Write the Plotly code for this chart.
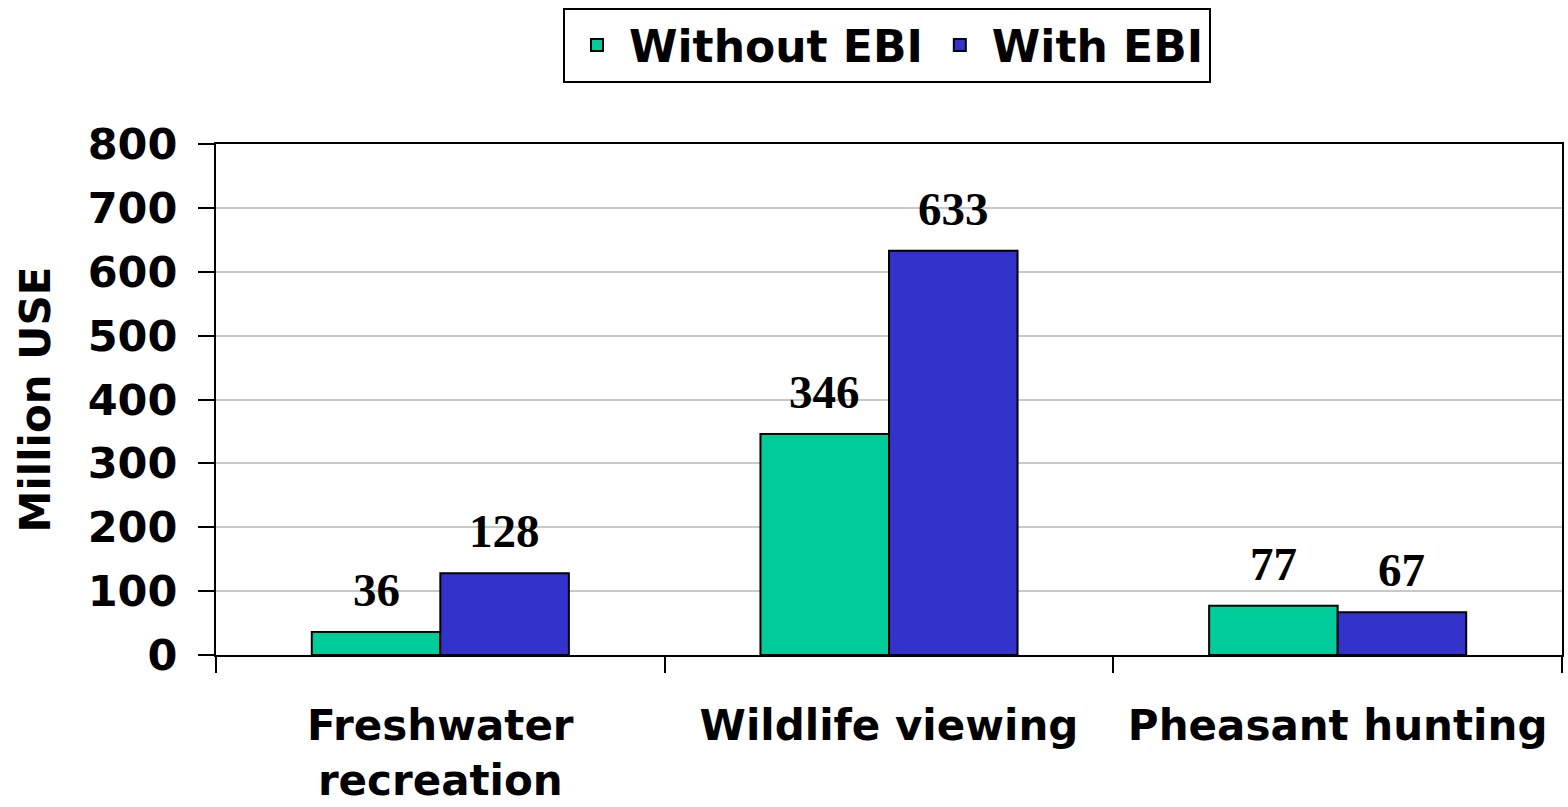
import plotly.graph_objects as go

categories = ["Freshwater<br>recreation", "Wildlife viewing", "Pheasant hunting"]
series_names = ["Without EBI", "With EBI"]
without_ebi = [36, 346, 77]
with_ebi = [128, 633, 67]
y_ticks = [0, 100, 200, 300, 400, 500, 600, 700, 800]

colors = ["#00CC99", "#3333CC"]

W, H = 1568, 807
ML, MR, MT, MB = 216, 6, 144, 152
BARGAP = 0.427

fig = go.Figure()
for name, vals, col in zip(series_names, [without_ebi, with_ebi], colors):
    fig.add_trace(go.Bar(
        x=categories, y=vals, name=name,
        marker=dict(color=col, line=dict(color="black", width=2)),
    ))

# data labels
plot_w = W - ML - MR
bar_px = plot_w / len(categories) * (1 - BARGAP) / 2
annotations = []
for i, vals in enumerate([without_ebi, with_ebi]):
    shift = (i - 0.5) * bar_px
    for c, v in zip(categories, vals):
        annotations.append(dict(
            x=c, y=v, text=str(v), showarrow=False, xref="x", yref="y",
            xanchor="center", yanchor="bottom", xshift=shift, yshift=14,
            font=dict(family="Liberation Serif", size=47, color="black", weight="bold"),
        ))

fig.update_layout(
    width=W, height=H,
    margin=dict(l=ML, r=MR, t=MT, b=MB, autoexpand=False),
    paper_bgcolor="white", plot_bgcolor="white",
    barmode="group", bargap=BARGAP, bargroupgap=0,
    font=dict(family="DejaVu Sans", color="black"),
    showlegend=True,
    legend=dict(
        orientation="h", x=0.4985, xanchor="center", y=1.0 + (MT - 8) / (H - MT - MB), yanchor="top",
        bordercolor="black", borderwidth=2, bgcolor="white",
        font=dict(family="DejaVu Sans", size=44, color="black", weight="bold"),
        itemwidth=54,
    ),
    annotations=annotations,
)
fig.update_yaxes(
    range=[0, 800], tickvals=y_ticks, ticks="outside", ticklen=16, tickwidth=2, tickcolor="black",
    showline=True, linewidth=2, linecolor="black", mirror=True,
    showgrid=True, gridcolor="#C8C8C8", gridwidth=2, zeroline=False,
    tickfont=dict(family="DejaVu Sans", size=43, color="black", weight="bold"),
    ticklabelstandoff=12, automargin=False,
    title=dict(text="Million USE", standoff=24,
               font=dict(family="DejaVu Sans", size=42, color="black", weight="bold")),
)
fig.update_xaxes(
    ticks="outside", tickson="boundaries", ticklen=16, tickwidth=2, tickcolor="black",
    showline=True, linewidth=2, linecolor="black", mirror=True, showgrid=False,
    tickfont=dict(family="DejaVu Sans", size=42, color="black", weight="bold"),
    ticklabelstandoff=33, automargin=False,
)

fig.write_html("out.html")
